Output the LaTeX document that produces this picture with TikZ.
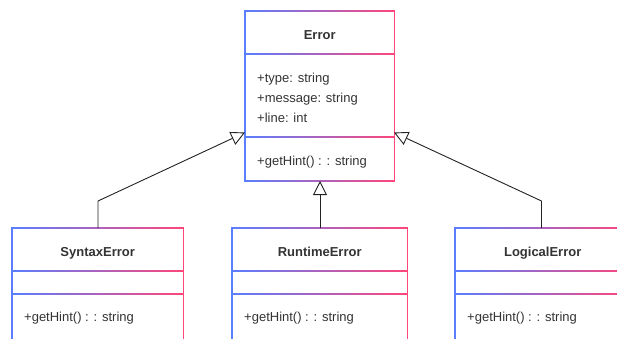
\documentclass[tikz,border=0pt]{standalone}
\usepackage{fontspec}
\setmainfont{Liberation Sans}
\usetikzlibrary{arrows.meta,calc}

\definecolor{edgeblue}{RGB}{90,126,255}
\definecolor{edgemid}{RGB}{178,112,208}
\definecolor{edgepink}{RGB}{255,70,122}
\definecolor{inktext}{RGB}{51,51,51}
\definecolor{inkline}{RGB}{34,34,34}

\tikzset{
  classarea/.style={draw=none, inner sep=0pt, anchor=north west},
  title/.style={font=\fontsize{13}{15}\selectfont\bfseries, text=inktext, anchor=base, inner sep=0pt},
  member/.style={font=\fontsize{13}{15}\selectfont, text=inktext, anchor=base west, inner sep=0pt},
  inherit/.style={draw=inkline, line width=0.9pt,
    -{Triangle[length=14pt,width=14pt,fill=white,line width=0.9pt]}},
}

% horizontal gradient rule across a class box at height #2
\newcommand{\gradrule}[2]{%
  \shade[left color=edgeblue, middle color=edgemid, right color=edgepink]
    ($(#1.north west)+(0,#2-0.6)$) rectangle ($(#1.north east)+(0,#2+0.6)$);}
% side edges of a class box
\newcommand{\gradsides}[1]{%
  \fill[edgeblue] ($(#1.north west)+(-0.6,-0.6)$) rectangle ($(#1.south west)+(0.6,0.6)$);
  \fill[edgepink] ($(#1.north east)+(-0.6,-0.6)$) rectangle ($(#1.south east)+(0.6,0.6)$);}

\begin{document}
\begin{tikzpicture}[x=1pt,y=-1pt]
\useasboundingbox (0,0) rectangle (617,338);
\clip (0,0) rectangle (617,338);

% ---- class areas ----
\node[classarea, minimum width=149, minimum height=170] (err) at (245,11) {};
\node[classarea, minimum width=171, minimum height=130] (syn) at (12,228) {};
\node[classarea, minimum width=175, minimum height=130] (run) at (232,228) {};
\node[classarea, minimum width=175, minimum height=130] (log) at (455,228) {};

% ---- Error ----
\gradsides{err}
\gradrule{err}{0}
\gradrule{err}{43}
\gradrule{err}{126}
\gradrule{err}{170}
\node[title] (errT) at ($(err.north)+(0,28.6)$) {Error};
\node[member] (errA1) at ($(err.north west)+(12,71.2)$) {+type: string};
\node[member] (errA2) at ($(err.north west)+(12,91.2)$) {+message: string};
\node[member] (errA3) at ($(err.north west)+(12,111.2)$) {+line: int};
\node[member] (errM1) at ($(err.north west)+(12,154.2)$) {+getHint() : : string};

% ---- subclasses ----
\foreach \c/\t in {syn/SyntaxError, run/RuntimeError, log/LogicalError}{
  \gradsides{\c}
  \gradrule{\c}{0}
  \gradrule{\c}{43}
  \gradrule{\c}{66}
  \node[title] (\c T) at ($(\c.north)+(0,28.2)$) {\t};
  \node[member] (\c M) at ($(\c.north west)+(12,93.6)$) {+getHint() : : string};
}

% ---- generalisation connectors ----
\coordinate (synBend) at (98,201);
\coordinate (logBend) at (541.5,201);
\coordinate (errL) at (245,132.5);
\coordinate (errR) at (394,132.5);
\coordinate (synTop) at (98,228);
\coordinate (logTop) at (541.5,228);
\coordinate (runTop) at (320,228);
\coordinate (errB) at (320,181);

\draw[inherit] (synTop) -- (synBend) -- (errL);
\draw[inherit] (logTop) -- (logBend) -- (errR);
\draw[inherit] (runTop) -- (errB);
\end{tikzpicture}
\end{document}
